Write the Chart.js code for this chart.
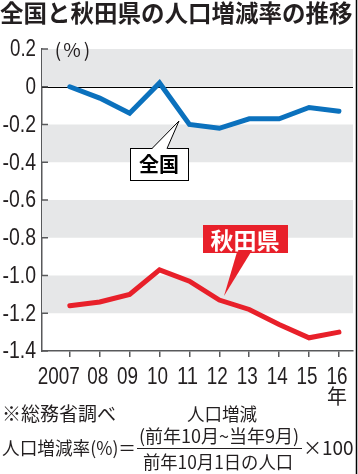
<!DOCTYPE html>
<html><head><meta charset="utf-8">
<script src="https://cdn.jsdelivr.net/npm/chart.js@4/dist/chart.umd.min.js"></script>
<style>html,body{margin:0;padding:0;background:#fff}#wrap{width:358px;height:474px;position:relative}</style>
</head><body><div id="wrap"><canvas id="c" width="358" height="474"></canvas></div>
<script>
const years = [2007, 2008, 2009, 2010, 2011, 2012, 2013, 2014, 2015, 2016];
const xTickLabels = ["2007", "08", "09", "10", "11", "12", "13", "14", "15", "16"];
const nationalRate = [0, -0.06, -0.14, 0.02, -0.20, -0.22, -0.17, -0.17, -0.11, -0.13];
const akitaRate = [-1.16, -1.14, -1.10, -0.97, -1.03, -1.13, -1.18, -1.26, -1.33, -1.30];
const yTicks = [0.2, 0, -0.2, -0.4, -0.6, -0.8, -1.0, -1.2, -1.4];
const yTickLabels = ["0.2", "0", "-0.2", "-0.4", "-0.6", "-0.8", "-1.0", "-1.2", "-1.4"];
const grayBands = [[0, 0.2], [-0.4, -0.2], [-0.8, -0.6], [-1.2, -1.0]];
const title = "全国と秋田県の人口増減率の推移";
const seriesNames = ["全国", "秋田県"];

const NUMF = "'Liberation Sans',sans-serif";
const JP = "'Noto Sans CJK JP',sans-serif";
const INK = "#231f20";
const BLUE = "#0b71bd";
const RED = "#e8202a";

function narrowWidth(t) {
  let w = 0;
  for (const ch of t) w += (ch === '.') ? 5 : (ch === '-') ? 7.5 : 10.5;
  return w;
}
function narrowText(ctx, text, x, y, align) {
  ctx.textAlign = align;
  ctx.fillText(text, x, y, narrowWidth(text));
}

const decor = {
  id: 'decor',
  beforeDatasetsDraw(chart) {
    const ctx = chart.ctx, a = chart.chartArea, y = chart.scales.y;
    ctx.save();
    ctx.fillStyle = '#e6e7e8';
    grayBands.forEach(b => {
      const y1 = y.getPixelForValue(b[1]), y0 = y.getPixelForValue(b[0]);
      ctx.fillRect(a.left, y1, a.right - a.left, y0 - y1);
    });
    ctx.strokeStyle = '#000'; ctx.lineWidth = 1;
    const z = Math.round(y.getPixelForValue(0)) + 0.5;
    ctx.beginPath(); ctx.moveTo(a.left, z); ctx.lineTo(a.right, z); ctx.stroke();
    ctx.strokeStyle = '#58595b'; ctx.lineWidth = 1.5;
    yTicks.forEach(v => {
      const p = y.getPixelForValue(v);
      ctx.beginPath(); ctx.moveTo(a.left, p); ctx.lineTo(a.left + 6, p); ctx.stroke();
    });
    ctx.restore();
  },
  afterDraw(chart) {
    const ctx = chart.ctx, xs = chart.scales.x, ys = chart.scales.y, a = chart.chartArea;
    ctx.save();
    ctx.fillStyle = INK;
    ctx.textBaseline = 'middle';
    ctx.font = "23px " + NUMF;
    yTicks.forEach((v, i) => narrowText(ctx, yTickLabels[i], a.left - 6, ys.getPixelForValue(v) + 1, 'right'));
    years.forEach((v, i) => {
      const px = xs.getPixelForValue(v);
      if (i === 0) narrowText(ctx, xTickLabels[i], px + 10, a.bottom + 27, 'right');
      else narrowText(ctx, xTickLabels[i], px - 2, a.bottom + 27, 'center');
    });
    ctx.font = "bold 23.5px " + JP;
    ctx.textAlign = 'left';
    ctx.fillText(title, 0, 13, 353);
    ctx.font = "19px " + JP;
    ctx.textAlign = 'center';
    ctx.fillText("(", 58, 50);
    ctx.fillText("%", 72, 50);
    ctx.fillText(")", 87, 50);
    ctx.font = "20px " + JP;
    ctx.fillText("年", 337, 396);
    ctx.font = "19px " + JP;
    ctx.textAlign = 'left';
    ctx.fillText("※総務省調べ", 2, 414, 116);
    ctx.font = "18px " + JP;
    ctx.textAlign = 'center';
    ctx.fillText("人口増減", 222, 414, 70);
    ctx.fillText("(前年10月~当年9月)", 219, 436, 165);
    ctx.fillText("前年10月1日の人口", 218, 462, 150);
    ctx.textAlign = 'left';
    ctx.fillText("人口増減率(%)＝", 2, 448, 134);
    ctx.font = "19px " + JP;
    ctx.fillText("×100", 303, 448, 51);
    ctx.strokeStyle = INK; ctx.lineWidth = 1;
    ctx.beginPath(); ctx.moveTo(137, 448.5); ctx.lineTo(302, 448.5); ctx.stroke();
    ctx.strokeStyle = '#000'; ctx.lineWidth = 1.5;
    ctx.beginPath(); ctx.moveTo(356.5, 0); ctx.lineTo(356.5, 474); ctx.stroke();
    ctx.restore();
  },
  afterDatasetsDraw(chart) {
    const ctx = chart.ctx;
    ctx.save();
    ctx.fillStyle = '#fff'; ctx.strokeStyle = '#000'; ctx.lineWidth = 1;
    ctx.fillRect(130.5, 148.5, 58, 32);
    ctx.strokeRect(130.5, 148.5, 58, 32);
    ctx.beginPath(); ctx.moveTo(152, 149); ctx.lineTo(179, 121); ctx.lineTo(167, 149); ctx.closePath(); ctx.fill();
    ctx.beginPath(); ctx.moveTo(152, 148.5); ctx.lineTo(179, 121); ctx.lineTo(167, 148.5); ctx.stroke();
    ctx.fillStyle = '#000';
    ctx.font = "bold 20px " + JP;
    ctx.textAlign = 'center'; ctx.textBaseline = 'middle';
    ctx.fillText(seriesNames[0], 159, 164);
    ctx.fillStyle = RED;
    ctx.fillRect(203, 225, 85, 28);
    ctx.beginPath(); ctx.moveTo(237, 252); ctx.lineTo(224, 296); ctx.lineTo(251, 252); ctx.closePath(); ctx.fill();
    ctx.fillStyle = '#fff';
    ctx.font = "bold 23px " + JP;
    ctx.fillText(seriesNames[1], 245, 240, 74);
    ctx.restore();
  }
};

new Chart(document.getElementById('c'), {
  type: 'line',
  data: {
    datasets: [
      { label: seriesNames[0], data: years.map((x, i) => ({ x, y: nationalRate[i] })), borderColor: BLUE, borderWidth: 5, pointRadius: 0, tension: 0, borderCapStyle: 'round' },
      { label: seriesNames[1], data: years.map((x, i) => ({ x, y: akitaRate[i] })), borderColor: RED, borderWidth: 5, pointRadius: 0, tension: 0, borderCapStyle: 'round' }
    ]
  },
  options: {
    responsive: false, animation: false, devicePixelRatio: 1,
    layout: { padding: { top: 49, right: 5, left: 0, bottom: 0 } },
    plugins: { legend: { display: false }, tooltip: { enabled: false }, title: { display: false } },
    scales: {
      x: {
        type: 'linear', min: 2006.07, max: 2016.47,
        afterBuildTicks(s) { s.ticks = years.map(v => ({ value: v })); },
        afterFit(s) { s.height = 474 - 49 - 302; },
        ticks: { display: false },
        grid: { drawOnChartArea: false, drawTicks: true, tickLength: 6, color: '#58595b', lineWidth: 1.5 },
        border: { display: true, color: '#58595b', width: 1.5 }
      },
      y: {
        min: -1.4, max: 0.2,
        afterBuildTicks(s) { s.ticks = yTicks.map(v => ({ value: v })); },
        afterFit(s) { s.width = 42; },
        ticks: { display: false },
        grid: { display: true, drawOnChartArea: false, drawTicks: false },
        border: { display: true, color: '#58595b', width: 1.5 }
      }
    }
  },
  plugins: [decor]
});
</script></body></html>
